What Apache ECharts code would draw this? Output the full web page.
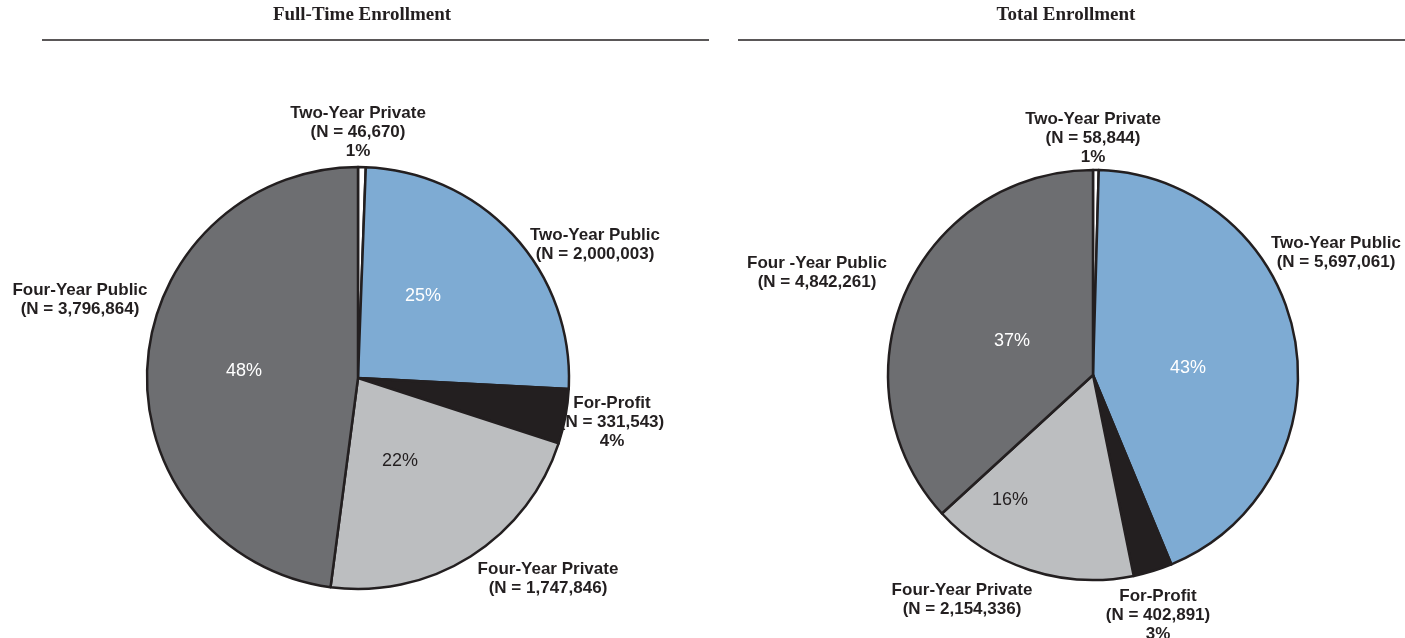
<!DOCTYPE html>
<html>
<head>
<meta charset="utf-8">
<script src="https://cdn.jsdelivr.net/npm/echarts@6/dist/echarts.min.js"></script>
<style>
html, body { margin: 0; padding: 0; background: #fff; }
#chart { width: 1405px; height: 638px; }
</style>
</head>
<body>
<div id="chart"></div>
<script>
// enrollment by sector
var categories = ['Two-Year Private', 'Two-Year Public', 'For-Profit', 'Four-Year Private', 'Four-Year Public'];
var totalNames = ['Two-Year Private', 'Two-Year Public', 'For-Profit', 'Four-Year Private', 'Four -Year Public'];
var fullTimeValues = [46670, 2000003, 331543, 1747846, 3796864];
var totalValues = [58844, 5697061, 402891, 2154336, 4842261];
var fullTimePct = ['1%', '25%', '4%', '22%', '48%'];
var totalPct = ['1%', '43%', '3%', '16%', '37%'];

var colors = ['#ffffff', '#7eabd3', '#231f20', '#bcbec0', '#6d6e71'];
var dark = '#231f20';
// which slices carry the percent outside (too small for inside)
var pctOutside = [true, false, true, false, false];

// label anchor points (centre of text block)
var leftOuterPos = [[358, 132], [595, 245], [612, 422], [548, 579], [80, 300]];
var leftInnerPos = [null, [423, 296], null, [400, 461], [244, 371]];
var rightOuterPos = [[1093, 138], [1336, 253], [1158, 615], [962, 600], [817, 273]];
var rightInnerPos = [null, [1188, 368], null, [1010, 500], [1012, 341]];

function makeData(names, values) {
    return names.map(function (n, i) {
        return { name: n, value: values[i], itemStyle: { color: colors[i] } };
    });
}

function fmt(v) {
    return v.toString().replace(/\B(?=(\d{3})+(?!\d))/g, ',');
}

function pieSeries(center, r, names, values, pct, innerPos, outerPos) {
    var fill = {
        type: 'pie',
        center: center,
        radius: r,
        startAngle: 90,
        silent: true,
        avoidLabelOverlap: false,
        data: makeData(names, values),
        itemStyle: { borderColor: dark, borderWidth: 2.5 },
        label: {
            show: true,
            position: 'inside',
            fontFamily: 'Liberation Sans, Arial, sans-serif',
            fontSize: 18,
            formatter: function (p) {
                return pctOutside[p.dataIndex] ? '' : pct[p.dataIndex];
            },
            color: '#ffffff'
        },
        labelLine: { show: false },
        labelLayout: function (p) {
            var pos = innerPos[p.dataIndex];
            if (!pos) return {};
            return { x: pos[0], y: pos[1], align: 'center', verticalAlign: 'middle' };
        }
    };
    fill.data[3].label = { color: dark };

    var outer = {
        type: 'pie',
        center: center,
        radius: r,
        startAngle: 90,
        silent: true,
        avoidLabelOverlap: false,
        data: makeData(names, values).map(function (d) {
            d.itemStyle = { color: 'transparent', borderWidth: 0 };
            return d;
        }),
        label: {
            show: true,
            position: 'inside',
            fontFamily: 'Liberation Sans, Arial, sans-serif',
            fontSize: 17,
            fontWeight: 'bold',
            lineHeight: 19,
            color: dark,
            align: 'center',
            formatter: function (p) {
                var s = p.name + '\n(N = ' + fmt(p.value) + ')';
                if (pctOutside[p.dataIndex]) s += '\n' + pct[p.dataIndex];
                return s;
            }
        },
        labelLine: { show: false },
        labelLayout: function (p) {
            var pos = outerPos[p.dataIndex];
            return { x: pos[0], y: pos[1], align: 'center', verticalAlign: 'middle' };
        }
    };
    return [fill, outer];
}

var titleFont = 'bold 19px "Liberation Serif", "DejaVu Serif", serif';

var chart = echarts.init(document.getElementById('chart'));
var option = {
    animation: false,
    backgroundColor: '#ffffff',
    graphic: [
        {
            type: 'text',
            style: { x: 362, y: 15, text: 'Full-Time Enrollment', fill: dark,
                font: titleFont, align: 'center', verticalAlign: 'middle' }
        },
        {
            type: 'text',
            style: { x: 1066, y: 15, text: 'Total Enrollment', fill: dark,
                font: titleFont, align: 'center', verticalAlign: 'middle' }
        },
        { type: 'line', shape: { x1: 42, y1: 40, x2: 709, y2: 40 }, style: { stroke: dark, lineWidth: 1.5 } },
        { type: 'line', shape: { x1: 738, y1: 40, x2: 1405, y2: 40 }, style: { stroke: dark, lineWidth: 1.5 } }
    ],
    series: [].concat(
        pieSeries([358, 378], 211, categories, fullTimeValues, fullTimePct, leftInnerPos, leftOuterPos),
        pieSeries([1093, 375], 205, totalNames, totalValues, totalPct, rightInnerPos, rightOuterPos)
    )
};
chart.setOption(option);
</script>
</body>
</html>
